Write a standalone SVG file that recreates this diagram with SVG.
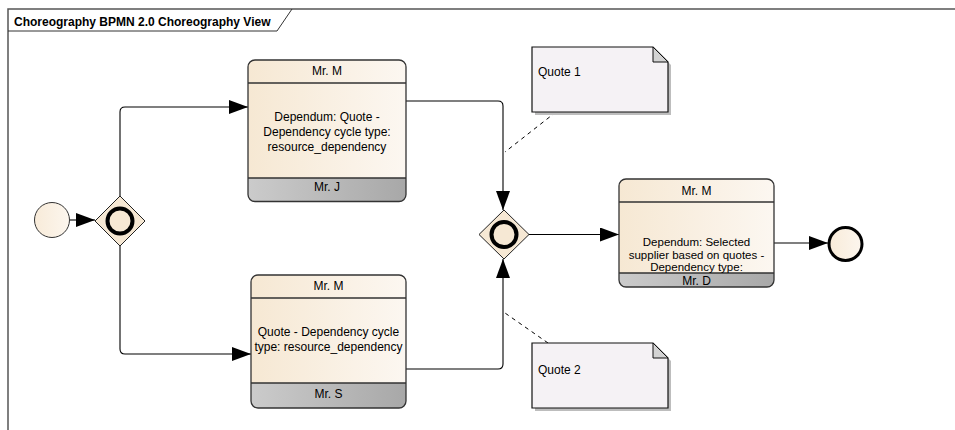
<svg xmlns="http://www.w3.org/2000/svg" width="955" height="430" viewBox="0 0 955 430">
<defs>
<linearGradient id="body" x1="0" y1="0" x2="1" y2="0"><stop offset="0" stop-color="#F6E8D3"/><stop offset="1" stop-color="#FCF7F1"/></linearGradient>
<linearGradient id="foot" x1="0" y1="0" x2="1" y2="0"><stop offset="0" stop-color="#CBCBCB"/><stop offset="1" stop-color="#A8A8A8"/></linearGradient>
<linearGradient id="ev" x1="0" y1="0" x2="1" y2="0"><stop offset="0" stop-color="#F8EBD9"/><stop offset="1" stop-color="#FCF6EE"/></linearGradient>
<marker id="arr" markerUnits="userSpaceOnUse" markerWidth="20" markerHeight="14" refX="19" refY="7" orient="auto"><path d="M0,0 L19,7 L0,14 z" fill="#000"/></marker>
</defs>
<style>
.t{font-family:"Liberation Sans",Arial,sans-serif;font-size:12px;fill:#000}
.s{font-size:11.5px}
.c{text-anchor:middle}
.box{stroke:#333;stroke-width:1.3}
.ln{fill:none;stroke:#000;stroke-width:1.1}
.dash{fill:none;stroke:#000;stroke-width:1;stroke-dasharray:4,4}
.note{fill:#F5F2F5;stroke:#111;stroke-width:1.2}
.shadow{fill:#BDBDBD}
.fold{fill:#D3D3D3;stroke:#111;stroke-width:1}
.gw{fill:#F6E8D4;stroke:#222;stroke-width:1}
.ring{fill:none;stroke:#000;stroke-width:4}
</style>
<g id="frame">
<path d="M8,430 V9 H955" fill="none" stroke="#555" stroke-width="1.5"/>
<path d="M8,31 H277 L292,9" fill="none" stroke="#333" stroke-width="1"/>
<text x="14" y="26" style="font-family:'Liberation Sans',Arial,sans-serif;font-size:12px;font-weight:bold">Choreography BPMN 2.0 Choreography View</text>
</g>
<g id="connectors">
<path class="ln" d="M70,220 H95" marker-end="url(#arr)"/>
<path class="ln" d="M120,196 V112 Q120,107 125,107 H248" marker-end="url(#arr)"/>
<path class="ln" d="M120,246 V349 Q120,354 125,354 H251" marker-end="url(#arr)"/>
<path class="ln" d="M406,101 H498 Q503,101 503,106 V210" marker-end="url(#arr)"/>
<path class="ln" d="M406,369 H498 Q503,369 503,364 V259" marker-end="url(#arr)"/>
<path class="ln" d="M529,234.5 H619" marker-end="url(#arr)"/>
<path class="ln" d="M774,243 H828" marker-end="url(#arr)"/>
<path class="dash" d="M556,112 L505,152"/>
<path class="dash" d="M548,343 L505,313"/>
</g>
<g id="start">
<circle cx="52" cy="220" r="17.5" fill="url(#ev)" stroke="#333" stroke-width="1"/>
</g>
<g id="gateway1">
<polygon class="gw" points="120,196 145,221 120,246 95,221"/>
<circle class="ring" cx="120" cy="221" r="12.5"/>
</g>
<g id="task1">
<rect x="248" y="60" width="158" height="141.5" rx="7" fill="url(#body)"/>
<path d="M248,178 H406 V194.5 Q406,201.5 399,201.5 H255 Q248,201.5 248,194.5 Z" fill="url(#foot)"/>
<rect class="box" x="248" y="60" width="158" height="141.5" rx="7" fill="none"/>
<path class="box" d="M248,83 H406 M248,178 H406" fill="none"/>
<text class="t c" x="327" y="74.5">Mr. M</text>
<text class="t c" x="327" y="121">Dependum: Quote -</text>
<text class="t c" x="327" y="136">Dependency cycle type:</text>
<text class="t c" x="327" y="151">resource_dependency</text>
<text class="t c" x="327" y="191">Mr. J</text>
</g>
<g id="task2">
<rect x="251" y="275" width="155" height="133" rx="7" fill="url(#body)"/>
<path d="M251,383 H406 V401 Q406,408 399,408 H258 Q251,408 251,401 Z" fill="url(#foot)"/>
<rect class="box" x="251" y="275" width="155" height="133" rx="7" fill="none"/>
<path class="box" d="M251,298 H406 M251,383 H406" fill="none"/>
<text class="t c" x="328.5" y="290">Mr. M</text>
<text class="t c" x="328.5" y="336">Quote - Dependency cycle</text>
<text class="t c" x="328.5" y="351">type: resource_dependency</text>
<text class="t c" x="328.5" y="397.5">Mr. S</text>
</g>
<g id="gateway2">
<polygon class="gw" points="504,210 529,234.5 504,259 479,234.5"/>
<circle class="ring" cx="504" cy="234.5" r="12.5"/>
</g>
<g id="task3">
<rect x="619" y="179" width="155" height="108" rx="7" fill="url(#body)"/>
<path d="M619,273 H774 V280 Q774,287 767,287 H626 Q619,287 619,280 Z" fill="url(#foot)"/>
<rect class="box" x="619" y="179" width="155" height="108" rx="7" fill="none"/>
<path class="box" d="M619,202 H774 M619,273 H774" fill="none"/>
<text class="t c" x="696.5" y="194.5">Mr. M</text>
<text class="t s c" x="696.5" y="246">Dependum: Selected</text>
<text class="t s c" x="696.5" y="258.5">supplier based on quotes -</text>
<text class="t s c" x="696.5" y="271">Dependency type:</text>
<text class="t c" x="696.5" y="284.5">Mr. D</text>
</g>
<g id="end">
<circle cx="845.5" cy="244" r="16.5" fill="url(#ev)" stroke="#000" stroke-width="3"/>
</g>
<g id="note1">
<polygon class="shadow" points="535,50 656,50 671,65 671,115 535,115"/>
<polygon class="note" points="532,47 653,47 668,62 668,112 532,112"/>
<polygon class="fold" points="653,47 653,62 668,62"/>
<text class="t" x="538" y="76">Quote 1</text>
</g>
<g id="note2">
<polygon class="shadow" points="535,346 656,346 671,361 671,411 535,411"/>
<polygon class="note" points="532,343 653,343 668,358 668,408 532,408"/>
<polygon class="fold" points="653,343 653,358 668,358"/>
<text class="t" x="538" y="373.5">Quote 2</text>
</g>
</svg>
